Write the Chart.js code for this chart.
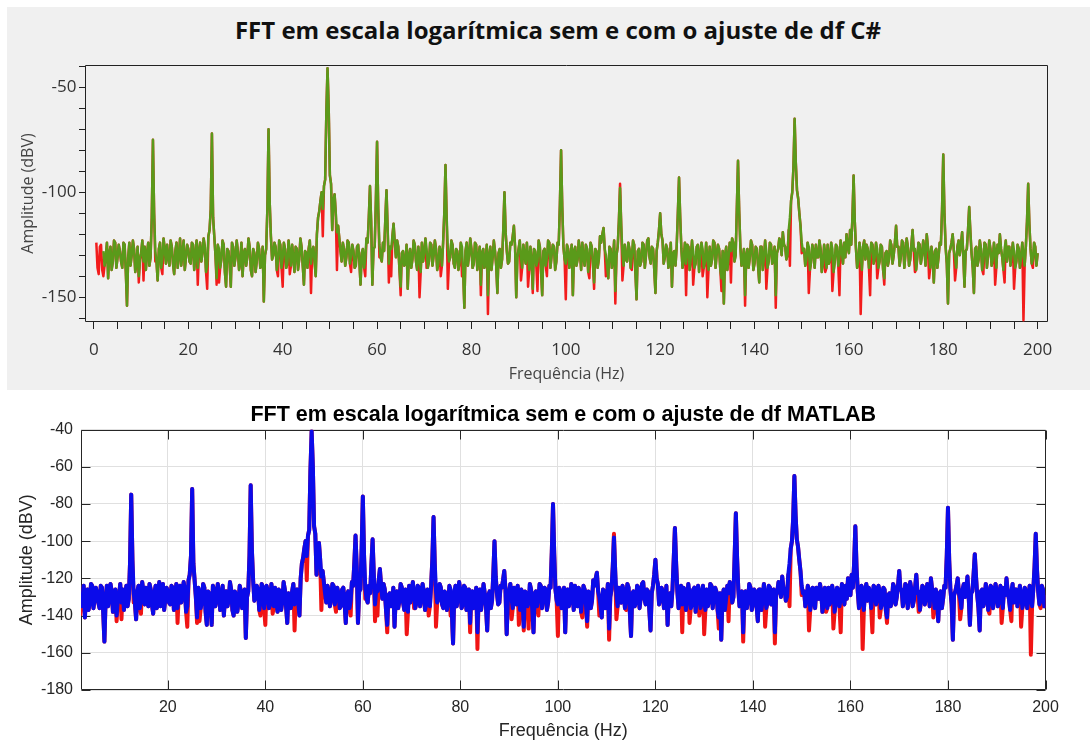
<!DOCTYPE html>
<html>
<head>
<meta charset="utf-8">
<script src="https://cdn.jsdelivr.net/npm/chart.js@4.4.1/dist/chart.umd.min.js"></script>
<style>
  html, body { margin: 0; padding: 0; background: #fff; overflow: hidden; }
  #page { position: relative; width: 1090px; height: 743px; }
  #csPanel { position: absolute; left: 7px; top: 7px; width: 1083px; height: 383px; background: #f0f0f0; }
  #csTitle {
    position: absolute; left: 0; top: 16px; width: 1116px; text-align: center;
    font: bold 24px/28px 'Open Sans', 'Noto Sans', sans-serif; color: #111; white-space: nowrap;
  }
  #csBox { position: absolute; left: 0; top: 0; width: 1090px; height: 390px; }
  #mlBox { position: absolute; left: 0; top: 390px; width: 1090px; height: 353px; }
</style>
</head>
<body>
<div id="page">
  <div id="csPanel"></div>
  <div id="csTitle">FFT em escala logarítmica sem e com o ajuste de df C#</div>
  <div id="csBox"><canvas id="csChart"></canvas></div>
  <div id="mlBox"><canvas id="mlChart"></canvas></div>
</div>
<script>
// FFT bins: first bin and spacing (Hz)
const firstBin = 0.5;
const df = 0.25;

// amplitude (dBV) without df adjustment, one row per 5 Hz
const semAjuste = [
  -124, -136, -139, -126, -125, -137, -140, -135, -131, -124, -141, -129, -126, -137, -133, -123, -124, -136, -131, -125,
  -128, -133, -136, -124, -125, -138, -154, -131, -124, -135, -130, -123, -127, -138, -134, -126, -143, -132, -129, -123,
  -142, -126, -137, -129, -124, -135, -131, -112, -75, -110, -133, -133, -142, -127, -124, -136, -139, -122, -127, -134,
  -125, -131, -135, -123, -126, -134, -139, -128, -124, -136, -130, -122, -135, -129, -123, -137, -131, -125, -127, -133,
  -134, -124, -125, -137, -130, -123, -144, -128, -124, -133, -129, -122, -126, -138, -146, -121, -118, -108, -72, -112,
  -121, -130, -144, -125, -143, -136, -132, -123, -125, -138, -145, -127, -128, -134, -145, -124, -126, -135, -131, -123,
  -128, -137, -134, -124, -140, -129, -127, -135, -131, -122, -126, -137, -140, -127, -129, -138, -133, -124, -127, -136,
  -135, -126, -152, -130, -127, -108, -70, -105, -121, -132, -130, -124, -126, -137, -140, -123, -125, -136, -145, -124,
  -127, -136, -134, -123, -139, -135, -125, -131, -138, -126, -127, -137, -132, -122, -126, -135, -144, -128, -129, -136,
  -127, -123, -148, -128, -126, -133, -140, -120, -112, -109, -104, -100, -121, -97, -94, -62, -41, -60, -92, -96,
  -118, -104, -101, -110, -137, -116, -122, -128, -133, -124, -127, -135, -131, -123, -124, -134, -138, -125, -128, -136,
  -135, -126, -125, -133, -144, -129, -127, -136, -140, -122, -124, -112, -97, -114, -144, -127, -126, -104, -76, -108,
  -131, -131, -133, -124, -128, -113, -99, -118, -143, -126, -140, -121, -115, -124, -131, -123, -126, -137, -149, -129,
  -128, -135, -134, -125, -146, -130, -127, -136, -132, -123, -125, -133, -137, -126, -150, -138, -124, -133, -129, -122,
  -136, -136, -133, -124, -125, -135, -130, -123, -127, -137, -134, -126, -140, -135, -124, -110, -87, -112, -146, -133,
  -131, -123, -125, -134, -136, -127, -128, -137, -133, -124, -140, -138, -155, -128, -124, -135, -130, -122, -127, -136,
  -134, -124, -125, -137, -131, -126, -149, -129, -127, -136, -133, -125, -158, -130, -126, -137, -131, -123, -128, -135,
  -148, -129, -127, -136, -132, -118, -100, -119, -128, -134, -133, -124, -125, -121, -116, -126, -150, -131, -127, -123,
  -142, -136, -125, -130, -134, -124, -145, -137, -126, -132, -148, -127, -128, -135, -147, -123, -126, -137, -149, -128,
  -127, -135, -140, -123, -124, -136, -130, -125, -126, -137, -133, -124, -125, -106, -80, -107, -126, -132, -151, -125,
  -127, -136, -131, -125, -149, -128, -126, -135, -132, -123, -128, -137, -124, -131, -135, -125, -127, -138, -141, -124,
  -126, -134, -146, -127, -128, -136, -132, -121, -124, -120, -117, -127, -140, -135, -141, -126, -127, -136, -132, -123,
  -153, -130, -126, -114, -96, -116, -142, -135, -125, -132, -133, -124, -127, -136, -137, -123, -125, -138, -151, -128,
  -127, -135, -133, -124, -125, -136, -130, -123, -122, -131, -134, -126, -127, -137, -148, -128, -124, -118, -110, -120,
  -123, -134, -131, -125, -127, -136, -133, -124, -145, -129, -128, -135, -126, -110, -93, -112, -127, -136, -132, -124,
  -149, -125, -126, -137, -131, -123, -144, -136, -134, -126, -125, -138, -130, -124, -140, -136, -133, -124, -150, -137,
  -126, -135, -132, -123, -124, -136, -129, -125, -127, -137, -147, -128, -153, -130, -126, -137, -131, -124, -143, -122,
  -124, -133, -130, -108, -85, -109, -126, -135, -132, -127, -154, -130, -127, -136, -131, -123, -125, -137, -134, -126,
  -127, -135, -143, -126, -126, -137, -131, -123, -146, -136, -133, -124, -125, -134, -130, -126, -155, -129, -127, -122,
  -124, -130, -119, -125, -126, -132, -130, -118, -135, -104, -100, -88, -65, -86, -99, -103, -110, -116, -129, -128,
  -127, -135, -132, -124, -148, -137, -133, -125, -128, -136, -125, -131, -131, -123, -127, -138, -134, -125, -138, -136,
  -125, -134, -132, -124, -147, -138, -133, -125, -126, -135, -149, -123, -128, -134, -124, -131, -120, -126, -129, -118,
  -125, -112, -92, -114, -127, -136, -133, -124, -158, -137, -126, -123, -132, -125, -127, -136, -149, -124, -125, -134,
  -131, -124, -141, -136, -133, -125, -126, -137, -144, -129, -128, -135, -132, -123, -125, -134, -130, -124, -116, -126,
  -126, -135, -131, -123, -124, -136, -129, -122, -126, -135, -132, -125, -118, -128, -138, -137, -131, -124, -125, -134,
  -130, -123, -127, -135, -120, -126, -141, -136, -126, -131, -143, -128, -127, -136, -131, -124, -125, -108, -82, -110,
  -126, -134, -153, -129, -127, -124, -120, -128, -142, -136, -126, -123, -130, -125, -119, -130, -145, -128, -127, -118,
  -107, -119, -129, -136, -148, -127, -126, -135, -132, -123, -127, -137, -139, -124, -125, -136, -130, -123, -127, -135,
  -132, -124, -144, -136, -125, -129, -120, -127, -131, -137, -143, -123, -133, -126, -126, -135, -130, -124, -146, -136,
  -133, -125, -127, -136, -131, -124, -161, -135, -126, -114, -96, -115, -127, -134, -136, -124, -126, -135, -129,
];

// amplitude (dBV) with df adjustment (no bins below 2 Hz)
const comAjuste = [
  null, null, null, null, null, null, -128, -135, -131, -124, -141, -129, -126, -137, -133, -123, -124, -136, -131, -125,
  -128, -133, -136, -124, -125, -138, -154, -131, -124, -135, -130, -123, -127, -138, -134, -126, -140, -132, -129, -123,
  -133, -126, -137, -129, -124, -135, -131, -112, -75, -110, -128, -133, -142, -127, -124, -136, -132, -122, -127, -134,
  -125, -131, -135, -123, -126, -134, -139, -128, -124, -136, -130, -122, -135, -129, -123, -137, -131, -125, -127, -133,
  -134, -124, -125, -137, -130, -123, -136, -128, -124, -133, -129, -122, -126, -138, -135, -121, -118, -108, -72, -112,
  -121, -130, -141, -125, -127, -136, -132, -123, -125, -138, -145, -127, -128, -134, -145, -124, -126, -135, -131, -123,
  -128, -137, -134, -124, -140, -129, -127, -135, -131, -122, -126, -137, -140, -127, -129, -138, -133, -124, -127, -136,
  -135, -126, -152, -130, -127, -108, -70, -105, -121, -132, -130, -124, -126, -137, -133, -123, -125, -136, -131, -124,
  -127, -136, -134, -123, -128, -135, -125, -131, -138, -126, -127, -137, -132, -122, -126, -135, -144, -128, -129, -136,
  -127, -123, -134, -128, -126, -133, -140, -120, -112, -109, -104, -100, -108, -97, -94, -62, -41, -60, -92, -96,
  -118, -104, -101, -110, -119, -116, -122, -128, -133, -124, -127, -135, -131, -123, -124, -134, -130, -125, -128, -136,
  -135, -126, -125, -133, -144, -129, -127, -136, -132, -122, -124, -112, -97, -114, -144, -127, -126, -104, -76, -108,
  -125, -131, -133, -124, -128, -113, -99, -118, -134, -126, -127, -121, -115, -124, -131, -123, -126, -137, -145, -129,
  -128, -135, -134, -125, -146, -130, -127, -136, -132, -123, -125, -133, -137, -126, -131, -138, -124, -133, -129, -122,
  -127, -136, -133, -124, -125, -135, -130, -123, -127, -137, -134, -126, -128, -135, -124, -110, -87, -112, -127, -133,
  -131, -123, -125, -134, -136, -127, -128, -137, -133, -124, -126, -138, -155, -128, -124, -135, -130, -122, -127, -136,
  -134, -124, -125, -137, -131, -126, -144, -129, -127, -136, -133, -125, -149, -130, -126, -137, -131, -123, -128, -135,
  -148, -129, -127, -136, -132, -118, -100, -119, -128, -134, -133, -124, -125, -121, -116, -126, -150, -131, -127, -123,
  -131, -136, -125, -130, -134, -124, -130, -137, -126, -132, -146, -127, -128, -135, -133, -123, -126, -137, -149, -128,
  -127, -135, -131, -123, -124, -136, -130, -125, -126, -137, -133, -124, -125, -106, -80, -107, -126, -132, -134, -125,
  -127, -136, -131, -125, -149, -128, -126, -135, -132, -123, -128, -137, -124, -131, -135, -125, -127, -138, -131, -124,
  -126, -134, -143, -127, -128, -136, -132, -121, -124, -120, -117, -127, -130, -135, -141, -126, -127, -136, -132, -123,
  -147, -130, -126, -114, -98, -116, -129, -135, -125, -132, -133, -124, -127, -136, -130, -123, -125, -138, -151, -128,
  -127, -135, -133, -124, -125, -136, -130, -123, -122, -131, -134, -126, -127, -137, -148, -128, -124, -118, -110, -120,
  -123, -134, -131, -125, -127, -136, -133, -124, -145, -129, -128, -135, -126, -110, -93, -112, -127, -136, -132, -124,
  -134, -125, -126, -137, -131, -123, -128, -136, -134, -126, -125, -138, -130, -124, -127, -136, -133, -124, -131, -137,
  -126, -135, -132, -123, -124, -136, -129, -125, -127, -137, -141, -128, -153, -130, -126, -137, -131, -124, -128, -122,
  -124, -133, -130, -108, -85, -109, -126, -135, -132, -127, -149, -130, -127, -136, -131, -123, -125, -137, -134, -126,
  -127, -135, -143, -126, -126, -137, -131, -123, -128, -136, -133, -124, -125, -134, -130, -126, -149, -129, -127, -122,
  -124, -130, -119, -125, -126, -132, -130, -118, -112, -104, -100, -88, -65, -86, -99, -103, -110, -116, -124, -128,
  -127, -135, -132, -124, -126, -137, -133, -125, -128, -136, -125, -131, -131, -123, -127, -138, -134, -125, -129, -136,
  -125, -134, -132, -124, -127, -138, -133, -125, -126, -135, -131, -123, -128, -134, -124, -131, -120, -126, -129, -118,
  -125, -112, -92, -114, -127, -136, -133, -124, -129, -137, -126, -123, -132, -125, -127, -136, -130, -124, -125, -134,
  -131, -124, -127, -136, -133, -125, -126, -137, -141, -129, -128, -135, -132, -123, -125, -134, -130, -124, -116, -126,
  -126, -135, -131, -123, -124, -136, -129, -122, -126, -135, -132, -125, -118, -128, -127, -137, -131, -124, -125, -134,
  -130, -123, -127, -135, -120, -126, -129, -136, -126, -131, -143, -128, -127, -136, -131, -124, -125, -108, -82, -110,
  -126, -134, -153, -129, -127, -124, -120, -128, -131, -136, -126, -123, -130, -125, -119, -130, -145, -128, -127, -118,
  -107, -119, -129, -136, -148, -127, -126, -135, -132, -123, -127, -137, -133, -124, -125, -136, -130, -123, -127, -135,
  -132, -124, -128, -136, -125, -129, -120, -127, -131, -137, -127, -123, -133, -126, -126, -135, -130, -124, -128, -136,
  -133, -125, -127, -136, -131, -124, -129, -135, -126, -114, -96, -115, -127, -134, -132, -124, -126, -135, -129,
];

// axis ticks
const csXTicks = [0, 5, 10, 15, 20, 25, 30, 35, 40, 45, 50, 55, 60, 65, 70, 75, 80, 85, 90, 95, 100,
  105, 110, 115, 120, 125, 130, 135, 140, 145, 150, 155, 160, 165, 170, 175, 180, 185, 190, 195, 200];
const csYTicks = [-160, -150, -140, -130, -120, -110, -100, -90, -80, -70, -60, -50, -40];
const mlXTicks = [20, 40, 60, 80, 100, 120, 140, 160, 180, 200];
const mlYTicks = [-180, -160, -140, -120, -100, -80, -60, -40];

const toPoints = (vals) => vals.map((v, i) => ({ x: firstBin + i * df, y: v }));

// box around the plot area, optionally with MATLAB-style inward ticks
const boxFrame = {
  id: "boxFrame",
  beforeDatasetsDraw(chart, args, opts) {
    const { ctx, chartArea: a } = chart;
    const L = Math.round(a.left) + 0.5, R = Math.round(a.right) - 0.5;
    const T = Math.round(a.top) + 0.5, B = Math.round(a.bottom) - 0.5;
    ctx.save();
    ctx.strokeStyle = opts.color;
    ctx.lineWidth = 1;
    ctx.beginPath();
    if (opts.innerTicks) {
      const len = opts.innerTicks;
      const xs = chart.scales.x, ys = chart.scales.y;
      xs.ticks.forEach((t) => {
        const px = Math.round(xs.getPixelForValue(t.value)) + 0.5;
        ctx.moveTo(px, B); ctx.lineTo(px, B - len);
        ctx.moveTo(px, T); ctx.lineTo(px, T + len);
      });
      ys.ticks.forEach((t) => {
        const py = Math.round(ys.getPixelForValue(t.value)) + 0.5;
        ctx.moveTo(L, py); ctx.lineTo(L + len, py);
        ctx.moveTo(R, py); ctx.lineTo(R - len, py);
      });
    }
    ctx.rect(L, T, R - L, B - T);
    ctx.stroke();
    ctx.restore();
  },
};

const csFont = "'Open Sans', 'Noto Sans', sans-serif";
const mlFont = "'Liberation Sans', Arial, sans-serif";

// C# panel (title sits in the page header above the canvas)
new Chart(document.getElementById("csChart"), {
  type: "line",
  data: {
    datasets: [
      {
        label: "com ajuste",
        data: toPoints(comAjuste),
        borderColor: "#5a9a1a",
        borderWidth: 2.5,
      },
      {
        label: "sem ajuste",
        data: toPoints(semAjuste),
        borderColor: "#f21c1c",
        borderWidth: 2.5,
      },
    ],
  },
  options: {
    responsive: true,
    maintainAspectRatio: false,
    animation: false,
    layout: { padding: { left: 0, right: 42, top: 65, bottom: 0 } },
    elements: {
      point: { radius: 0 },
      line: { tension: 0, borderJoinStyle: "round" },
    },
    plugins: {
      legend: { display: false },
      tooltip: { enabled: false },
      title: { display: false },
      boxFrame: { color: "#222" },
    },
    scales: {
      x: {
        type: "linear",
        min: -1.9,
        max: 202.2,
        afterBuildTicks: (axis) => {
          axis.ticks = csXTicks.map((v) => ({ value: v }));
        },
        afterFit: (axis) => {
          axis.height = 68;
        },
        border: { display: false },
        grid: { drawOnChartArea: false, drawTicks: true, tickLength: 7, tickColor: "#222" },
        ticks: {
          autoSkip: false,
          maxRotation: 0,
          padding: 11,
          color: "#333",
          font: { family: csFont, size: 17 },
          callback: (v) => (v % 20 === 0 ? v : ""),
        },
        title: {
          display: true,
          text: "Frequência (Hz)",
          color: "#444",
          font: { family: csFont, size: 16 },
          padding: { top: 0, bottom: 6 },
        },
      },
      y: {
        min: -161.8,
        max: -39.4,
        afterBuildTicks: (axis) => {
          axis.ticks = csYTicks.map((v) => ({ value: v }));
        },
        afterFit: (axis) => {
          axis.width = 85;
        },
        border: { display: false },
        grid: { drawOnChartArea: false, drawTicks: true, tickLength: 6, tickColor: "#222" },
        ticks: {
          autoSkip: false,
          padding: 2.5,
          color: "#333",
          font: { family: csFont, size: 17 },
          callback: (v) => (v % 50 === 0 ? v : ""),
        },
        title: {
          display: true,
          text: "Amplitude (dBV)",
          color: "#444",
          font: { family: csFont, size: 16 },
          padding: { top: 19, bottom: 0 },
        },
      },
    },
  },
  plugins: [boxFrame],
});

// MATLAB panel
new Chart(document.getElementById("mlChart"), {
  type: "line",
  data: {
    datasets: [
      {
        label: "com ajuste",
        data: toPoints(comAjuste),
        borderColor: "#0b0bea",
        borderWidth: 4,
      },
      {
        label: "sem ajuste",
        data: toPoints(semAjuste),
        borderColor: "#f01414",
        borderWidth: 4,
      },
    ],
  },
  options: {
    responsive: true,
    maintainAspectRatio: false,
    animation: false,
    layout: { padding: { left: 0, right: 44.5, top: 0, bottom: 0 } },
    elements: {
      point: { radius: 0 },
      line: { tension: 0, borderJoinStyle: "round" },
    },
    plugins: {
      legend: { display: false },
      tooltip: { enabled: false },
      title: {
        display: true,
        fullSize: false,
        text: "FFT em escala logarítmica sem e com o ajuste de df MATLAB",
        color: "#000",
        font: { family: mlFont, size: 21.5, weight: "bold" },
        padding: { top: 12, bottom: 1.7 },
      },
      boxFrame: { color: "#262626", innerTicks: 9 },
    },
    scales: {
      x: {
        type: "linear",
        min: 2.2,
        max: 200,
        afterBuildTicks: (axis) => {
          axis.ticks = mlXTicks.map((v) => ({ value: v }));
        },
        afterFit: (axis) => {
          axis.height = 53;
        },
        border: { display: false },
        grid: { color: "#e0e0e0", drawTicks: false },
        ticks: {
          autoSkip: false,
          maxRotation: 0,
          padding: 8,
          color: "#262626",
          font: { family: mlFont, size: 16 },
        },
        title: {
          display: true,
          text: "Frequência (Hz)",
          color: "#262626",
          font: { family: mlFont, size: 18 },
          padding: { top: 0, bottom: 1 },
        },
      },
      y: {
        min: -180,
        max: -40,
        afterBuildTicks: (axis) => {
          axis.ticks = mlYTicks.map((v) => ({ value: v }));
        },
        afterFit: (axis) => {
          axis.width = 81;
        },
        border: { display: false },
        grid: { color: "#e0e0e0", drawTicks: false },
        ticks: {
          autoSkip: false,
          padding: 8,
          color: "#262626",
          font: { family: mlFont, size: 16 },
        },
        title: {
          display: true,
          text: "Amplitude (dBV)",
          color: "#262626",
          font: { family: mlFont, size: 18 },
          padding: { top: 16, bottom: 0 },
        },
      },
    },
  },
  plugins: [boxFrame],
});
</script>
</body>
</html>
